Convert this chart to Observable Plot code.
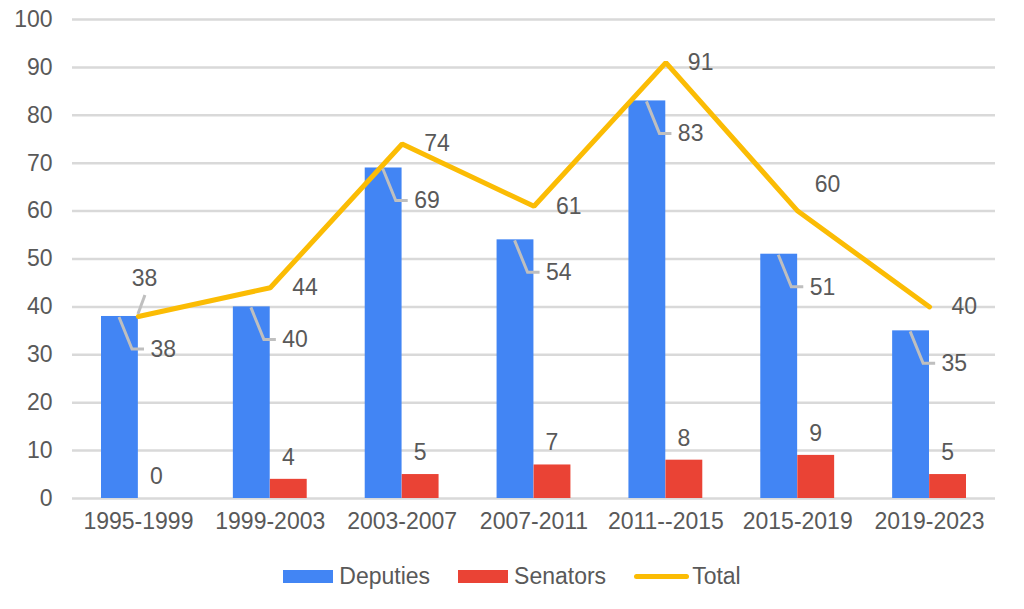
<!DOCTYPE html>
<html>
<head>
<meta charset="utf-8">
<script src="https://cdn.jsdelivr.net/npm/d3@7"></script>
<script src="https://cdn.jsdelivr.net/npm/@observablehq/plot@0.6"></script>
<style>
  html, body { margin: 0; padding: 0; background: #fff; }
  body { width: 1024px; height: 609px; overflow: hidden; font-family: "Liberation Sans", Arial, sans-serif; }
  #legend { display: flex; justify-content: center; align-items: center; height: 52px; font-size: 23px; color: #595959; }
  .item { display: flex; align-items: center; margin: 0 14px; }
  .sw { width: 50px; height: 13px; margin-right: 6px; }
  .ln { width: 55px; height: 5px; border-radius: 3px; margin-right: 3px; }
</style>
</head>
<body>
<div id="chart"></div>
<div id="legend"></div>
<script>
const periods = ["1995-1999","1999-2003","2003-2007","2007-2011","2011--2015","2015-2019","2019-2023"];
const deputies = [38, 40, 69, 54, 83, 51, 35];
const senators = [0, 4, 5, 7, 8, 9, 5];
const total = [38, 44, 74, 61, 91, 60, 40];
const yTicks = [0, 10, 20, 30, 40, 50, 60, 70, 80, 90, 100];
const seriesNames = ["Deputies", "Senators", "Total"];
const colors = ["#4285f4", "#ea4335", "#fbbc04"];

const rows = periods.map((p, i) => ({i, period: p, deputies: deputies[i], senators: senators[i], total: total[i]}));

// label placement tweaks (style, not data): the first Total label sits above its point, the 6th up-right
const aboveFirst = rows.filter(d => d.i === 0);
const upRight = rows.filter(d => d.i === 5);
const regular = rows.filter(d => d.i !== 0 && d.i !== 5);
const FS = 23;

const chart = Plot.plot({
  width: 1024,
  height: 550,
  marginTop: 19,
  marginBottom: 52,
  marginLeft: 72,
  marginRight: 29,
  style: {fontFamily: "'Liberation Sans', Arial, sans-serif", fontSize: FS + "px", color: "#595959", background: "#fff"},
  x: {domain: periods, padding: 0, round: false, label: null},
  y: {domain: [0, 100], label: null},
  marks: [
    Plot.gridY(yTicks, {stroke: "#d9d9d9", strokeOpacity: 1, strokeWidth: 2.5}),
    Plot.axisY(yTicks, {tickSize: 0, tickPadding: 20, fontSize: FS, label: null}),
    Plot.axisX({tickSize: 0, tickPadding: 14, fontSize: FS, label: null}),
    Plot.barY(rows, {x: "period", y: "deputies", fill: colors[0], insetLeft: 29, insetRight: 66}),
    Plot.barY(rows, {x: "period", y: "senators", fill: colors[1], insetLeft: 66, insetRight: 29}),
    Plot.line(rows, {x: "period", y: "total", stroke: colors[2], strokeWidth: 5, strokeLinejoin: "miter"}),
    Plot.text(rows, {x: "period", y: "deputies", text: d => String(d.deputies), dx: 12, dy: 33, textAnchor: "start", fill: "#595959", fontSize: FS}),
    Plot.text(rows, {x: "period", y: "senators", text: d => String(d.senators), dx: 18, dy: -22, fill: "#595959", fontSize: FS}),
    Plot.text(regular, {x: "period", y: "total", text: d => String(d.total), dx: 22, dy: 0, textAnchor: "start", fill: "#595959", fontSize: FS}),
    Plot.text(upRight, {x: "period", y: "total", text: d => String(d.total), dx: 17, dy: -26, textAnchor: "start", fill: "#595959", fontSize: FS}),
    Plot.text(aboveFirst, {x: "period", y: "total", text: d => String(d.total), dx: 6, dy: -38, textAnchor: "middle", fill: "#595959", fontSize: FS})
  ]
});

// leader lines, positioned through the plot's own scales
const xs = chart.scale("x"), ys = chart.scale("y");
const bw = xs.bandwidth;
const g = d3.select(chart).append("g").attr("fill", "none").attr("stroke", "#bfbfbf").attr("stroke-width", 3);
rows.forEach(d => {
  const x0 = xs.apply(d.period), y0 = ys.apply(d.deputies);
  g.append("path").attr("d", `M${x0 + 47},${y0 + 1}L${x0 + 60},${y0 + 33}H${x0 + 72}`);
});
aboveFirst.forEach(d => {
  const xc = xs.apply(d.period) + bw / 2, y0 = ys.apply(d.total);
  g.append("path").attr("d", `M${xc},${y0 - 2}L${xc + 7},${y0 - 21}`);
});
document.getElementById("chart").appendChild(chart);

const legend = document.getElementById("legend");
seriesNames.forEach((name, i) => {
  const item = document.createElement("div");
  item.className = "item";
  const sw = document.createElement("div");
  sw.className = i === 2 ? "ln" : "sw";
  sw.style.background = colors[i];
  const t = document.createElement("span");
  t.textContent = name;
  item.appendChild(sw); item.appendChild(t);
  legend.appendChild(item);
});
</script>
</body>
</html>
